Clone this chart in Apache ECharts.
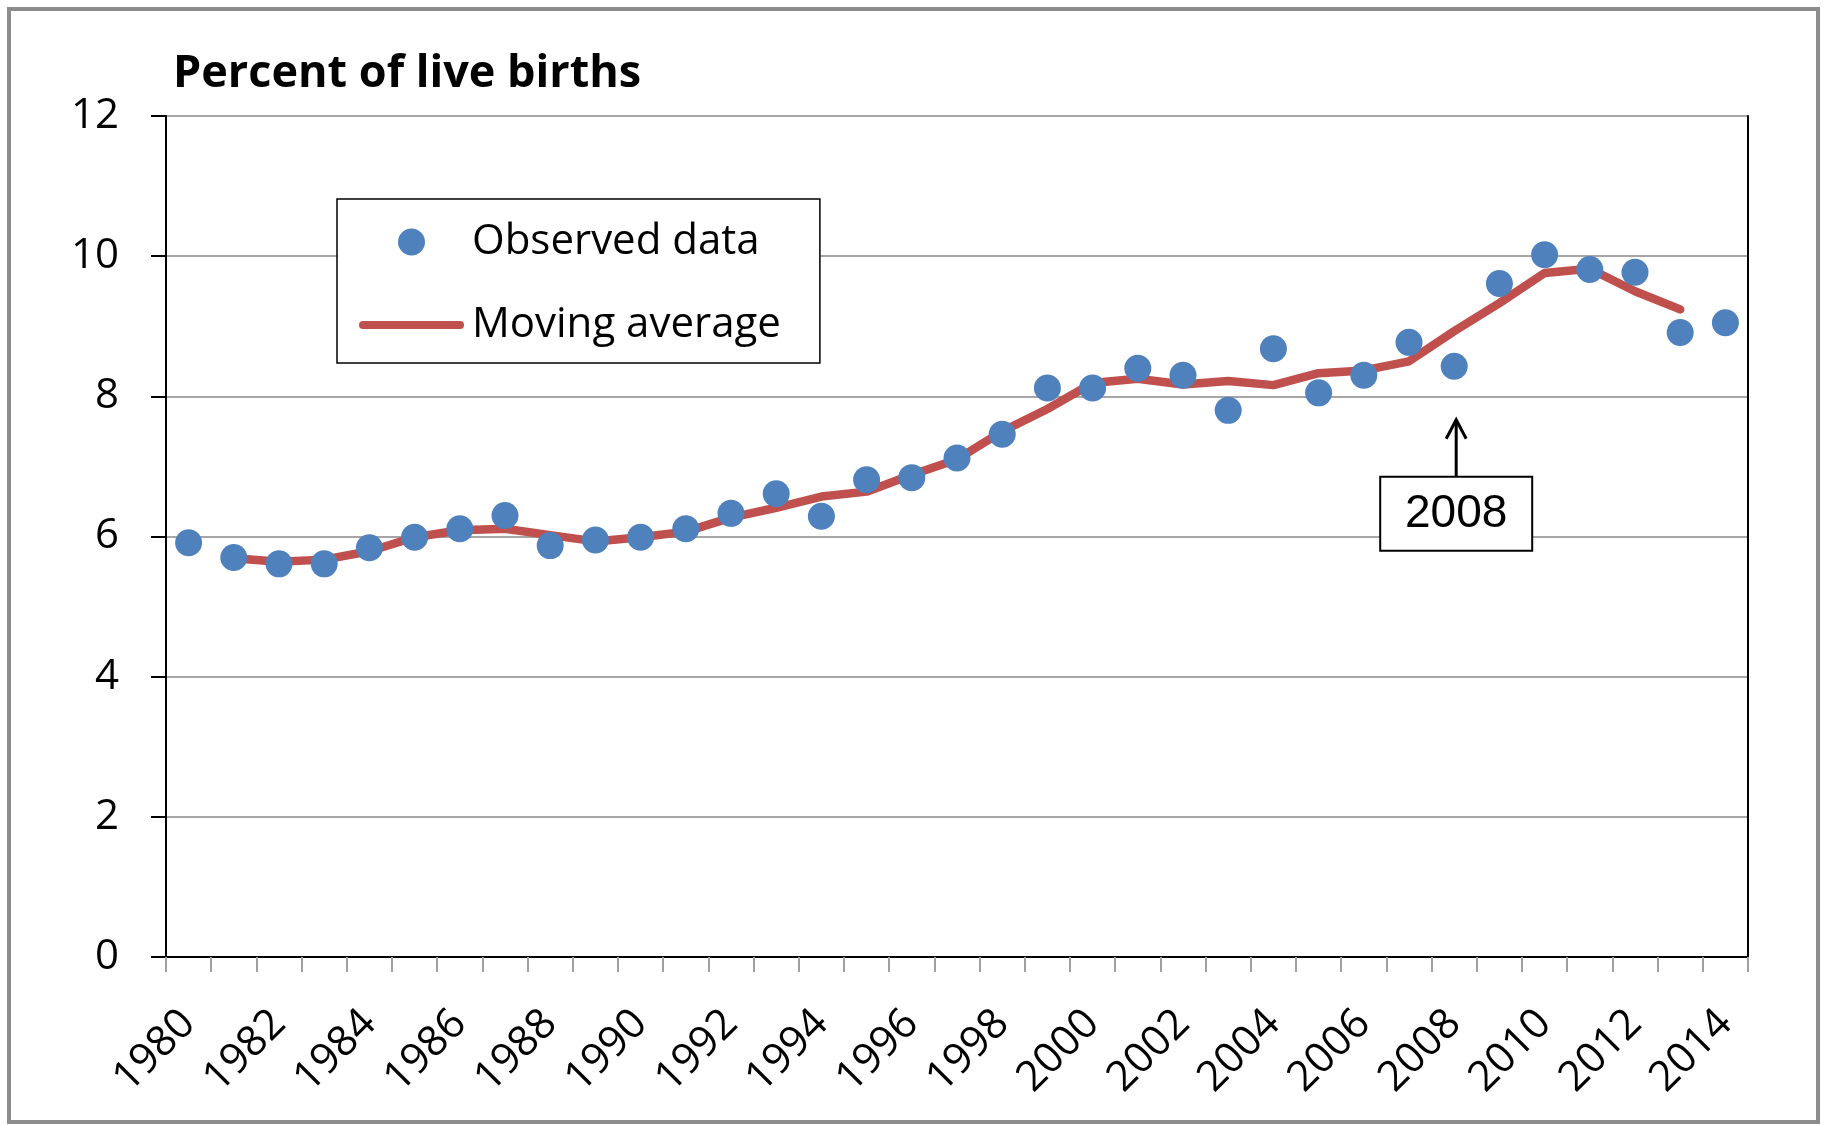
<!DOCTYPE html>
<html>
<head>
<meta charset="utf-8">
<title>Percent of live births</title>
<script src="https://cdn.jsdelivr.net/npm/echarts@6/dist/echarts.min.js"></script>
<style>
  html, body { margin: 0; padding: 0; background: #fff; }
  #chart { width: 1825px; height: 1125px; }
</style>
</head>
<body>
<div id="chart"></div>
<script>
// 数据
const years = ['1980', '1981', '1982', '1983', '1984', '1985', '1986', '1987', '1988', '1989',
  '1990', '1991', '1992', '1993', '1994', '1995', '1996', '1997', '1998', '1999',
  '2000', '2001', '2002', '2003', '2004', '2005', '2006', '2007', '2008', '2009',
  '2010', '2011', '2012', '2013', '2014'];
const observed = [5.91, 5.70, 5.61, 5.61, 5.84, 5.99, 6.11, 6.30, 5.87, 5.95,
  5.99, 6.11, 6.33, 6.61, 6.29, 6.81, 6.84, 7.12, 7.46, 8.12,
  8.12, 8.40, 8.30, 7.80, 8.68, 8.05, 8.30, 8.77, 8.43, 9.61,
  10.02, 9.81, 9.77, 8.91, 9.05];
const movingAvg = [null, 5.69, 5.64, 5.67, 5.79, 5.99, 6.09, 6.11, 6.02, 5.93,
  5.99, 6.07, 6.27, 6.41, 6.57, 6.64, 6.88, 7.10, 7.50, 7.82,
  8.19, 8.25, 8.17, 8.22, 8.16, 8.33, 8.37, 8.50, 8.93, 9.33,
  9.76, 9.82, 9.50, 9.24, null];
const yMin = 0, yMax = 12, yStep = 2;
const noteYear = '2008';
const noteTip = 7.68; // 箭头指向的位置

const font = 'Open Sans';
const chart = echarts.init(document.getElementById('chart'));

const frame = {
  type: 'rect',
  shape: { x: 9, y: 9, width: 1809, height: 1113 },
  style: { fill: 'none', stroke: '#8c8c8c', lineWidth: 4 },
  silent: true
};

let option = {
  animation: false,
  backgroundColor: '#fff',
  title: {
    text: 'Percent of live births',
    left: 173,
    top: 52,
    padding: 0,
    textStyle: { fontFamily: font, fontWeight: 'bold', fontSize: 45, color: '#000' }
  },
  legend: {
    orient: 'vertical',
    left: 337,
    top: 199,
    padding: [18, 39, 13, 22],
    itemWidth: 105,
    itemHeight: 27,
    itemGap: 33,
    backgroundColor: '#fff',
    borderColor: '#000',
    borderWidth: 1.5,
    itemStyle: { borderWidth: 0 },
    textStyle: { fontFamily: font, fontSize: 42, color: '#000', lineHeight: 50, padding: [0, 0, 0, 3] },
    data: [
      { name: 'Observed data', icon: 'circle' },
      { name: 'Moving average', icon: 'path://M4,0 L101,0 A4,4 0 0 1 101,8 L4,8 A4,4 0 0 1 4,0 Z' }
    ]
  },
  grid: { left: 166, right: 77, top: 116, bottom: 168 },
  xAxis: [
    {
      type: 'category',
      data: years,
      boundaryGap: true,
      axisLine: { lineStyle: { color: '#a0a0a0', width: 2 } },
      axisTick: { show: true, interval: 0, length: 15, lineStyle: { color: '#a0a0a0', width: 2 } },
      axisLabel: { interval: 1, rotate: 45, margin: 60, fontFamily: font, fontSize: 42, color: '#000' },
      splitLine: { show: false }
    },
    {
      // 上边框
      type: 'category',
      data: years,
      position: 'top',
      axisLine: { lineStyle: { color: '#000', width: 2 } },
      axisTick: { show: false },
      axisLabel: { show: false },
      splitLine: { show: false }
    }
  ],
  yAxis: [
    {
      type: 'value',
      min: yMin,
      max: yMax,
      interval: yStep,
      axisLine: { show: true, lineStyle: { color: '#000', width: 2 } },
      axisTick: { show: true, length: 15, lineStyle: { color: '#000', width: 2 } },
      axisLabel: { margin: 47, fontFamily: font, fontSize: 42, color: '#000' },
      splitLine: { show: true, lineStyle: { color: '#a6a6a6', width: 2 } }
    },
    {
      // 右边框
      type: 'value',
      position: 'right',
      min: yMin,
      max: yMax,
      interval: yStep,
      axisLine: { show: true, lineStyle: { color: '#000', width: 2 } },
      axisTick: { show: false },
      axisLabel: { show: false },
      splitLine: { show: false }
    }
  ],
  series: [
    {
      name: 'Moving average',
      type: 'line',
      data: movingAvg,
      symbol: 'none',
      color: '#C0504D',
      lineStyle: { color: '#C0504D', width: 8.5, cap: 'round', join: 'round' },
      z: 2
    },
    {
      name: 'Observed data',
      type: 'scatter',
      data: observed,
      symbolSize: 27,
      color: '#4F81BD',
      itemStyle: { color: '#4F81BD', opacity: 1 },
      z: 3
    }
  ],
  graphic: [frame]
};
chart.setOption(option);

// 2008 标注
const tip = chart.convertToPixel({ xAxisIndex: 0, yAxisIndex: 0 }, [noteYear, noteTip]);
const ax = tip[0] + 2, ay = tip[1];
chart.setOption({
  graphic: [
    frame,
    {
      type: 'line',
      shape: { x1: ax, y1: ay + 1, x2: ax, y2: ay + 58 },
      style: { stroke: '#000', lineWidth: 3 },
      z: 10
    },
    {
      type: 'polyline',
      shape: { points: [[ax - 10, ay + 20], [ax, ay + 1], [ax + 10, ay + 20]] },
      style: { stroke: '#000', lineWidth: 3, fill: null },
      z: 10
    },
    {
      type: 'rect',
      shape: { x: ax - 76, y: ay + 58, width: 152, height: 74 },
      style: { fill: '#fff', stroke: '#000', lineWidth: 2 },
      z: 10
    },
    {
      type: 'text',
      x: ax,
      y: ay + 58 + 38,
      style: { text: noteYear, fontFamily: 'Liberation Sans', fontSize: 46, fill: '#000', align: 'center', verticalAlign: 'middle' },
      z: 11
    }
  ]
});
</script>
</body>
</html>
